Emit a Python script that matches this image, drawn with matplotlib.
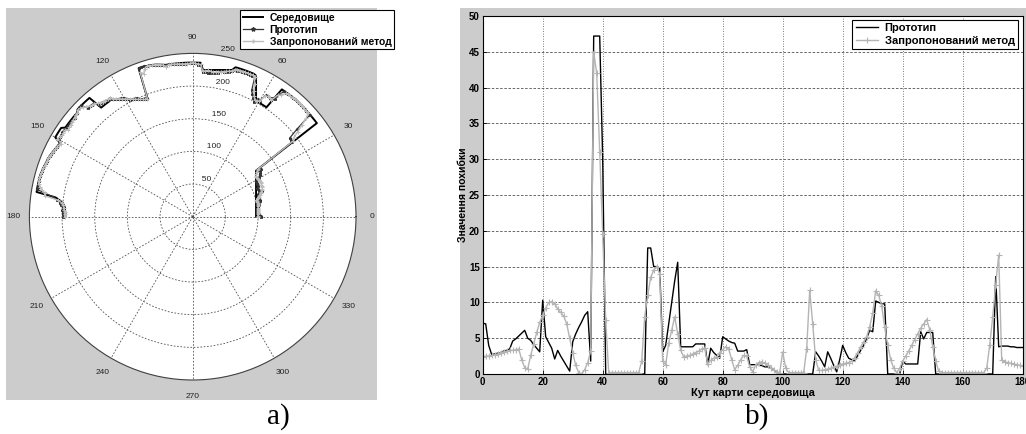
import matplotlib
matplotlib.use('Agg')
import matplotlib.pyplot as plt
import numpy as np
from matplotlib.patches import Rectangle
from matplotlib.lines import Line2D

plt.rcParams['font.family'] = ['Liberation Sans', 'DejaVu Sans']

# ---------------- data ----------------
angles_deg = list(range(0, 181))

# environment map range per degree (polar panel a)
env_r = [97.0, 97.0, 97.1, 97.1, 97.2, 97.4, 97.5, 97.7, 98.0, 98.2,
         98.5, 98.8, 99.2, 99.6, 100.0, 100.4, 100.9, 101.4, 102.0, 102.6,
         103.2, 103.9, 104.6, 105.4, 106.2, 107.0, 107.9, 108.9, 109.9, 110.9,
         112.0, 113.2, 114.4, 115.7, 117.0, 118.4, 119.9, 238, 238, 238,
         238, 238, 238, 238, 238, 238, 238, 238, 238, 238,
         238, 238, 238, 238, 238, 238, 202, 202, 202, 202,
         202, 202, 206.6, 213.7, 221.3, 229.5, 237, 238, 238, 238,
         238, 238, 238, 238, 238, 232.5, 231.5, 230.5, 229.6, 228.8,
         228.1, 227.4, 226.8, 226.3, 225.8, 225.5, 225.1, 236, 236, 236,
         236, 236, 236, 236, 236, 236, 236, 236, 236, 236,
         236, 237, 238, 239, 240, 240, 241, 241, 242, 242,
         242, 191.7, 193.1, 194.5, 195.9, 197.5, 199.2, 200.9, 202.7, 204.7,
         206.7, 208.8, 211.1, 213.4, 215.9, 218.5, 218, 218, 218, 218,
         218, 241, 241, 241, 241, 241, 241, 241, 238, 238,
         238, 238, 238, 238, 238, 238, 243, 243, 243, 243,
         243, 232, 233, 234, 235, 236, 237, 238, 238.5, 239,
         239.5, 240, 240.5, 241, 241.5, 242, 242, 242, 242, 242,
         242, 242, 212, 205, 200, 198, 196, 196, 195, 195,
         195]

# prototype range per degree (polar panel a)
proto_r = [104.1, 104.0, 101.1, 99.8, 100.0, 100.3, 100.5, 100.9, 101.3, 101.7,
           103.1, 103.7, 104.5, 105.3, 106.1, 105.4, 105.6, 105.5, 105.6, 105.7,
           113.5, 109.1, 109.0, 109.0, 108.3, 110.3, 110.4, 110.7, 111.0, 111.3,
           116.5, 118.8, 120.9, 123.0, 125.2, 127.1, 121.7, 190.8, 190.8, 190.8,
           208.0, 238, 238, 238, 238, 238, 238, 238, 238, 238,
           238, 238, 238, 238, 238, 220.4, 219.6, 217.0, 217.0, 216.8,
           205.1, 206.0, 199.6, 203.7, 208.3, 213.9, 233.2, 234.2, 234.2, 234.2,
           234.2, 233.8, 233.8, 233.8, 233.8, 231.2, 227.9, 227.5, 227.0, 226.6,
           222.9, 222.5, 222.2, 221.9, 221.5, 222.3, 221.9, 232.8, 232.6, 234.7,
           234.7, 234.7, 234.8, 234.8, 235.0, 235.0, 235.1, 235.4, 235.8, 236.0,
           236.0, 237, 238, 239, 240, 240, 241, 241, 242, 242,
           242, 194.8, 195.6, 196.3, 196.9, 200.6, 201.4, 202.1, 203.0, 206.7,
           210.7, 211.8, 213.3, 215.4, 217.7, 221.1, 221.3, 222.0, 223.0, 224.1,
           223.9, 230.8, 231.0, 231.2, 231.2, 241, 241, 241, 238, 238,
           236.2, 236.6, 236.6, 236.6, 236.6, 236.6, 237.1, 238.1, 237.2, 237.2,
           237.2, 232, 233, 234, 235, 236, 237, 238, 238.5, 239,
           239.5, 240, 240.5, 241, 241.5, 242, 242, 242, 242, 242,
           242, 228.4, 215.8, 208.9, 203.9, 201.9, 199.8, 199.8, 198.7, 198.7,
           198.7]

# proposed method range per degree (polar panel a)
prop_r = [99.4, 99.5, 99.6, 99.7, 99.9, 100.2, 100.5, 100.8, 101.2, 101.5,
          101.8, 102.2, 102.7, 101.6, 100.9, 101.1, 103.5, 105.6, 107.8, 109.8,
          111.4, 113.1, 114.6, 115.5, 116.0, 116.1, 116.5, 117.0, 116.9, 115.9,
          115.0, 114.4, 114.6, 115.7, 117.6, 120.0, 123.1, 193.0, 196.0, 207.0,
          218.5, 230.5, 237.8, 237.8, 237.8, 237.8, 237.8, 237.8, 237.8, 237.8,
          237.8, 237.8, 237.8, 236.2, 230.0, 227.0, 215.5, 216.5, 217.0, 216.0,
          203.8, 203.3, 202.3, 207.6, 213.3, 223.9, 233.7, 235.6, 235.5, 235.4,
          235.2, 235.0, 234.8, 234.5, 234.4, 231.1, 229.6, 228.3, 227.2, 225.8,
          224.7, 223.6, 223.3, 224.3, 225.2, 224.3, 223.1, 233.4, 233.5, 235.0,
          235.7, 234.7, 234.4, 234.3, 234.5, 234.8, 235.1, 235.4, 235.7, 235.8,
          232.9, 236.2, 237.8, 238.8, 239.8, 239.8, 240.8, 240.8, 238.5, 230.3,
          235.0, 193.7, 193.6, 195.0, 196.5, 198.2, 200.0, 201.9, 203.8, 206.0,
          208.1, 210.3, 212.7, 215.2, 218.2, 221.5, 221.8, 222.5, 223.2, 224.6,
          226.5, 229.4, 230.0, 231.5, 234.5, 237.0, 239.0, 240.2, 237.8, 237.2,
          236.2, 235.5, 234.8, 234.0, 233.2, 232.4, 236.6, 236.0, 235.4, 236.8,
          239.2, 230.2, 232.6, 233.8, 234.8, 235.8, 236.8, 237.8, 238.3, 238.8,
          239.3, 239.8, 240.3, 240.8, 241.3, 241.8, 241.8, 241.8, 241.2, 238.0,
          234.0, 229.5, 228.6, 207.0, 201.7, 199.6, 197.5, 197.4, 196.3, 196.2,
          196.1]

# error values per degree (panel b)
err_proto = [7.1, 7.0, 4.0, 2.7, 2.8, 2.9, 3.0, 3.2, 3.3, 3.5,
             4.6, 4.9, 5.3, 5.7, 6.1, 5.0, 4.7, 4.1, 3.6, 3.1,
             10.3, 5.2, 4.4, 3.6, 2.1, 3.3, 2.5, 1.8, 1.1, 0.4,
             4.5, 5.6, 6.5, 7.3, 8.2, 8.7, 1.8, 47.2, 47.2, 47.2,
             30.0, 0, 0, 0, 0, 0, 0, 0, 0, 0,
             0, 0, 0, 0, 0, 17.6, 17.6, 15.0, 15.0, 14.8,
             3.1, 4.0, 7.0, 10.0, 13.0, 15.6, 3.8, 3.8, 3.8, 3.8,
             3.8, 4.2, 4.2, 4.2, 4.2, 1.3, 3.6, 3.0, 2.6, 2.2,
             5.2, 4.9, 4.6, 4.4, 4.3, 3.2, 3.2, 3.2, 3.4, 1.3,
             1.3, 1.3, 1.2, 1.2, 1.0, 1.0, 0.9, 0.6, 0.2, 0,
             0, 0, 0, 0, 0, 0, 0, 0, 0, 0,
             0, 3.1, 2.5, 1.8, 1.0, 3.1, 2.2, 1.2, 0.3, 2.0,
             4.0, 3.0, 2.2, 2.0, 1.8, 2.6, 3.3, 4.0, 5.0, 6.1,
             5.9, 10.2, 10.0, 9.8, 9.8, 0, 0, 0, 0, 0,
             1.8, 1.4, 1.4, 1.4, 1.4, 1.4, 5.9, 4.9, 5.8, 5.8,
             5.8, 0, 0, 0, 0, 0, 0, 0, 0, 0,
             0, 0, 0, 0, 0, 0, 0, 0, 0, 0,
             0, 13.6, 3.8, 3.9, 3.9, 3.9, 3.8, 3.8, 3.7, 3.7,
             3.7]

err_prop = [2.4, 2.5, 2.5, 2.6, 2.7, 2.8, 3.0, 3.1, 3.2, 3.3,
            3.3, 3.4, 3.5, 2.0, 0.9, 0.7, 2.6, 4.2, 5.8, 7.2,
            8.2, 9.2, 10.0, 10.1, 9.8, 9.1, 8.6, 8.1, 7.0, 5.0,
            3.0, 1.2, 0.2, 0.0, 0.6, 1.6, 3.2, 45.0, 42.0, 31.0,
            19.5, 7.5, 0.2, 0.2, 0.2, 0.2, 0.2, 0.2, 0.2, 0.2,
            0.2, 0.2, 0.2, 1.8, 8.0, 11.0, 13.5, 14.5, 15.0, 14.0,
            1.8, 1.3, 4.3, 6.1, 8.0, 5.6, 3.3, 2.4, 2.5, 2.6,
            2.8, 3.0, 3.2, 3.5, 3.6, 1.4, 1.9, 2.2, 2.4, 3.0,
            3.4, 3.8, 3.5, 2.0, 0.6, 1.2, 2.0, 2.6, 2.5, 1.0,
            0.3, 1.3, 1.6, 1.7, 1.5, 1.2, 0.9, 0.6, 0.3, 0.2,
            3.1, 0.8, 0.2, 0.2, 0.2, 0.2, 0.2, 0.2, 3.5, 11.7,
            7.0, 2.0, 0.5, 0.5, 0.6, 0.7, 0.8, 1.0, 1.1, 1.3,
            1.4, 1.5, 1.6, 1.8, 2.3, 3.0, 3.8, 4.5, 5.2, 6.6,
            8.5, 11.6, 11.0, 9.5, 6.5, 4.0, 2.0, 0.8, 0.2, 0.8,
            1.8, 2.5, 3.2, 4.0, 4.8, 5.6, 6.4, 7.0, 7.6, 6.2,
            3.8, 1.8, 0.4, 0.2, 0.2, 0.2, 0.2, 0.2, 0.2, 0.2,
            0.2, 0.2, 0.2, 0.2, 0.2, 0.2, 0.2, 0.2, 0.8, 4.0,
            8.0, 12.5, 16.6, 2.0, 1.7, 1.6, 1.5, 1.4, 1.3, 1.2,
            1.1]

polar_labels = ['Середовище', 'Прототип', 'Запропонований метод']
line_labels = ['Прототип', 'Запропонований метод']

# ---------------- layout ----------------
W, H = 1026, 434
fig = plt.figure(figsize=(W / 100, H / 100), dpi=100, facecolor='white')


def fx(px):
    return px / W


def fy(py):
    return 1 - py / H


PANEL = '#cccccc'
for x0, x1 in [(6, 377), (460, 1026)]:
    fig.patches.append(Rectangle((fx(x0), fy(400)), (x1 - x0) / W, (400 - 8) / H,
                                 transform=fig.transFigure, facecolor=PANEL,
                                 edgecolor='none', zorder=-5))

ENV_C = 'black'
PROTO_C = '#333333'
PROP_C = '#bdbdbd'
GRID_C = '#505050'

# ---------------- polar panel ----------------
cx, cy, rad = 192.7, 216.7, 163.3
axp = fig.add_axes([fx(cx - rad), fy(cy + rad), 2 * rad / W, 2 * rad / H],
                   projection='polar')
axp.set_zorder(1)
axp.set_facecolor('white')
axp.set_ylim(0, 250)
axp.set_thetagrids(range(0, 360, 30), labels=[])
axp.set_rgrids([50, 100, 150, 200], labels=[])
axp.grid(True, color=GRID_C, linestyle=(0, (2, 2)), linewidth=0.6)
axp.spines['polar'].set_color('#404040')
axp.spines['polar'].set_linewidth(0.8)
axp.tick_params(length=0)

theta = np.deg2rad(angles_deg)
axp.plot(theta, env_r, color=ENV_C, lw=1.4)
axp.plot(theta, proto_r, color=PROTO_C, lw=0.9, marker='*', ms=2.2, mew=0.5)
axp.plot(theta, prop_r, color=PROP_C, lw=1.0, marker='+', ms=3, mew=0.7)

for a in range(0, 360, 30):
    axp.text(np.deg2rad(a), 275, str(a), ha='center', va='center',
             fontsize=6, color='#222222')
for r in [50, 100, 150, 200, 250]:
    axp.text(np.deg2rad(82), r + 2.5, '  ' + str(r), ha='left', va='bottom',
             fontsize=6, color='#222222')

h_env = Line2D([], [], color=ENV_C, lw=1.4)
h_proto = Line2D([], [], color=PROTO_C, lw=0.9, marker='*', ms=3)
h_prop = Line2D([], [], color=PROP_C, lw=1.0, marker='+', ms=3.5)
leg1 = fig.legend([h_env, h_proto, h_prop], polar_labels, loc='upper left',
                  bbox_to_anchor=(fx(240), fy(10)), bbox_transform=fig.transFigure,
                  prop={'weight': 'bold', 'size': 7.5}, fancybox=False,
                  framealpha=1, edgecolor='black', borderpad=0.25,
                  handlelength=2.0, handletextpad=0.6, labelspacing=0.2,
                  borderaxespad=0)
leg1.get_frame().set_linewidth(0.8)
leg1.set_zorder(5)

# ---------------- line panel ----------------
axr = fig.add_axes([fx(482.7), fy(374), 540 / W, 358 / H])
axr.set_zorder(1)
axr.set_facecolor('white')
axr.plot(angles_deg, err_proto, color='black', lw=1.0, label=line_labels[0])
axr.plot(angles_deg, err_prop, color='#b4b4b4', lw=1.0, marker='+', ms=4,
         mew=0.8, label=line_labels[1])
axr.set_xlim(0, 180)
axr.set_ylim(0, 50)
axr.set_xticks(range(0, 181, 20))
axr.set_yticks(range(0, 51, 5))
axr.yaxis.grid(True, linestyle=(0, (3, 2)), color=GRID_C, lw=0.6)
axr.xaxis.grid(True, linestyle=(0, (1, 2)), color=GRID_C, lw=0.6)
axr.tick_params(direction='in', length=3, width=0.6, labelsize=7, pad=2)
for lab in axr.get_xticklabels() + axr.get_yticklabels():
    lab.set_fontweight('bold')
for s in axr.spines.values():
    s.set_linewidth(0.8)
axr.set_xlabel('Кут карти середовища', fontsize=8, fontweight='bold', labelpad=1)
axr.set_ylabel('Значення похибки', fontsize=7.5, fontweight='bold', labelpad=1)
leg2 = axr.legend(loc='upper right', bbox_to_anchor=(fx(1018), fy(20)),
                  bbox_transform=fig.transFigure,
                  prop={'weight': 'bold', 'size': 8}, fancybox=False,
                  framealpha=1, edgecolor='black', borderpad=0.3,
                  handlelength=2.0, handletextpad=0.6, labelspacing=0.2,
                  borderaxespad=0)
leg2.get_frame().set_linewidth(0.8)

fig.text(fx(278), fy(417), 'a)', family='Liberation Serif', fontsize=21,
         ha='center', va='center')
fig.text(fx(757), fy(417), 'b)', family='Liberation Serif', fontsize=21,
         ha='center', va='center')

fig.savefig('out.png', dpi=100, facecolor='white')
